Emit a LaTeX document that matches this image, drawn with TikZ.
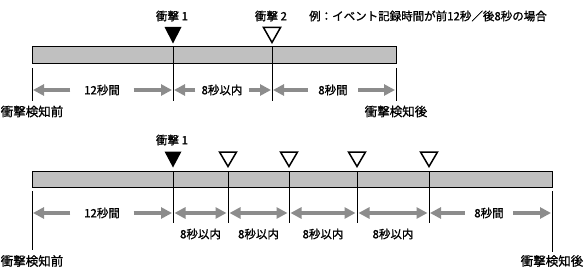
\documentclass[tikz,border=0pt]{standalone}
\usepackage{fontspec}
\newfontfamily\jpfont[FakeBold=1]{Noto Sans CJK JP}
\usetikzlibrary{arrows.meta,calc}
\definecolor{barfill}{RGB}{192,192,192}
\definecolor{spangray}{RGB}{140,140,140}

\begin{document}
\begin{tikzpicture}[x=1pt,y=-1pt,font=\jpfont\fontsize{11.5}{13}\selectfont,line join=miter,
  bar/.style={draw,line width=1pt,fill=barfill},
  tick/.style={line width=0.9pt},
  spanarrow/.style={draw=spangray,line width=3.5pt,-{Triangle[length=11pt,width=11pt,fill=spangray]},shorten >=1pt},
  bothways/.style={draw=spangray,line width=3.5pt,{Triangle[length=11pt,width=11pt,fill=spangray]}-{Triangle[length=11pt,width=11pt,fill=spangray]},shorten <=1.5pt,shorten >=1.5pt},
  lenlabel/.style={inner sep=0pt,minimum height=10pt},
  endlabel/.style={font=\jpfont\fontsize{12.5}{14}\selectfont},
  hitmark/.style={fill=black},
  nextmark/.style={draw,line width=1.5pt}]
\useasboundingbox (0,0) rectangle (587,270);
% upper case: two hits
\draw[bar] (32,47) rectangle (396,64);
\foreach \x in {173,272} \draw[tick] (\x,47) -- (\x,101);
\draw[tick] (32,68) -- (32,101);
\draw[tick] (396,68) -- (396,101);
\node[endlabel] (before1) at (32,111.5) {衝撃検知前};
\node[endlabel] (after1) at (396,111.5) {衝撃検知後};
\node (hitA) at (172,16) {衝撃 1};
\node (hitB) at (271,16) {衝撃 2};
\node (note) at (428,16) {例：イベント記録時間が前12秒／後8秒の場合};
\fill[hitmark] (164.5,27) -- (181.5,27) -- (173,43.5) -- cycle;
\draw[nextmark] (263.5,27.5) -- (280.5,27.5) -- (272,42.5) -- cycle;
\coordinate (a0) at (32,90);
\coordinate (a1) at (173,90);
\coordinate (a2) at (272,90);
\coordinate (a3) at (396,90);
\node[lenlabel,minimum width=63pt] (preA) at (102,90) {12秒間};
\draw[spanarrow] (preA.west) -- (a0);
\draw[spanarrow] (preA.east) -- (a1);
\node[lenlabel,minimum width=53pt] (limA) at (222,90) {8秒以内};
\draw[spanarrow] (limA.west) -- (a1);
\draw[spanarrow] (limA.east) -- (a2);
\node[lenlabel,minimum width=50pt] (postA) at (333,90) {8秒間};
\draw[spanarrow] (postA.west) -- (a2);
\draw[spanarrow] (postA.east) -- (a3);
% lower case: hits follow within 8 s
\draw[bar] (32,171) rectangle (552,187);
\foreach \x in {173,228,289,357,429} \draw[tick] (\x,171) -- (\x,223);
\draw[tick] (32,191) -- (32,250);
\draw[tick] (552,191) -- (552,252);
\node[endlabel] (before2) at (32,261) {衝撃検知前};
\node[endlabel] (after2) at (552,261) {衝撃検知後};
\node (hitC) at (172,140) {衝撃 1};
\fill[hitmark] (164.5,151.5) -- (181.5,151.5) -- (173,167.5) -- cycle;
\foreach \x in {228,289,357,429}
  \draw[nextmark] (\x-8.5,152) -- (\x+8.5,152) -- (\x,166.5) -- cycle;
\foreach \n/\x in {0/32,1/173,2/228,3/289,4/357,5/429,6/552}
  \coordinate (b\n) at (\x,213);
\node[lenlabel,minimum width=63pt] (preB) at (102,213) {12秒間};
\draw[spanarrow] (preB.west) -- (b0);
\draw[spanarrow] (preB.east) -- (b1);
\foreach \a/\b in {1/2,2/3,3/4,4/5} {
  \draw[bothways] (b\a) -- (b\b);
  \node (limB\a) at ($(b\a)!0.5!(b\b)+(0,21)$) {8秒以内};
}
\node[lenlabel,minimum width=48pt] (postB) at (489,213) {8秒間};
\draw[spanarrow] (postB.west) -- (b5);
\draw[spanarrow] (postB.east) -- (b6);
\end{tikzpicture}
\end{document}
